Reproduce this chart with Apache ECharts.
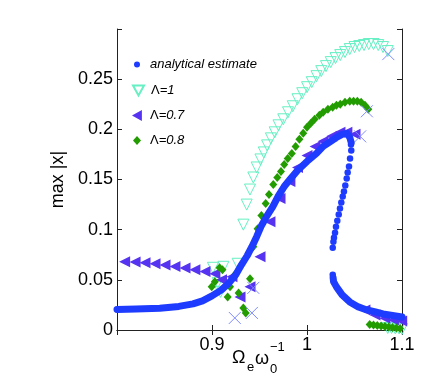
<!DOCTYPE html>
<html>
<head>
<meta charset="utf-8">
<script src="https://cdn.jsdelivr.net/npm/echarts@6/dist/echarts.min.js"></script>
<style>
  html, body { margin: 0; padding: 0; background: #fff; }
  #chart { width: 436px; height: 390px; }
</style>
</head>
<body>
<div id="chart"></div>
<script>
// analytical estimate: stable upper branch, unstable branch (sparse dots), stable lower branch
const analyticUpper = [
  [0.800, 0.0205], [0.820, 0.0210], [0.845, 0.0217], [0.865, 0.0235], [0.880, 0.0260],
  [0.890, 0.0290], [0.900, 0.0340], [0.910, 0.0400], [0.918, 0.0470], [0.925, 0.0550],
  [0.931, 0.0650], [0.937, 0.0740], [0.942, 0.0830], [0.947, 0.0930], [0.952, 0.1040],
  [0.958, 0.1140], [0.964, 0.1230], [0.970, 0.1340], [0.976, 0.1430], [0.982, 0.1500],
  [0.990, 0.1590], [1.000, 0.1680], [1.010, 0.1760], [1.017, 0.1830], [1.025, 0.1880],
  [1.031, 0.1920], [1.037, 0.1950], [1.042, 0.1960], [1.045, 0.1920], [1.0465, 0.1870]
];
const analyticUnstable = [
  [1.0463, 0.185], [1.0466, 0.179], [1.0453, 0.171], [1.0442, 0.163], [1.0428, 0.157],
  [1.0418, 0.151], [1.0403, 0.144], [1.0389, 0.138], [1.0376, 0.133], [1.0361, 0.127],
  [1.0347, 0.121], [1.0334, 0.115], [1.0319, 0.109], [1.0305, 0.103], [1.0295, 0.097],
  [1.0284, 0.092], [1.0278, 0.088], [1.0271, 0.082], [1.0271, 0.055]
];
const analyticLower = [
  [1.0275, 0.052], [1.028, 0.048], [1.031, 0.043], [1.037, 0.035], [1.045, 0.028],
  [1.054, 0.023], [1.063, 0.020], [1.072, 0.018], [1.080, 0.016], [1.090, 0.0145],
  [1.100, 0.013]
];

// Lambda = 1 (open down triangles)
const lambda1 = [
  [0.901, 0.062], [0.912, 0.063], [0.927, 0.066], [0.906, 0.047], [0.909, 0.038],
  [0.933, 0.105], [0.9365, 0.125], [0.940, 0.140], [0.9435, 0.152], [0.947, 0.162],
  [0.951, 0.170], [0.9545, 0.177], [0.958, 0.184], [0.962, 0.191], [0.966, 0.197],
  [0.970, 0.204], [0.975, 0.210], [0.980, 0.217], [0.985, 0.223], [0.990, 0.230],
  [0.995, 0.236], [1.000, 0.242], [1.005, 0.247], [1.010, 0.253], [1.015, 0.258],
  [1.020, 0.263], [1.025, 0.267], [1.030, 0.271], [1.035, 0.274], [1.040, 0.277],
  [1.045, 0.280], [1.050, 0.282], [1.055, 0.283], [1.060, 0.284], [1.065, 0.285],
  [1.070, 0.285], [1.075, 0.284], [1.080, 0.282], [1.085, 0.278],
  [1.085, 0.002], [1.089, 0.002], [1.093, 0.0015], [1.097, 0.0015], [1.100, 0.001]
];

// Lambda = 0.7 (left triangles)
const lambda07 = [
  [0.808, 0.068], [0.819, 0.0677], [0.8295, 0.067], [0.840, 0.066], [0.8505, 0.0647],
  [0.861, 0.0633], [0.8716, 0.0617], [0.882, 0.060], [0.8926, 0.0583], [0.903, 0.056],
  [0.910, 0.050], [0.921, 0.053], [0.9295, 0.033], [0.940, 0.043],
  [0.9505, 0.073], [0.961, 0.108], [0.9716, 0.131], [0.982, 0.148], [0.990, 0.162],
  [1.000, 0.174], [1.0085, 0.183], [1.017, 0.188], [1.026, 0.193], [1.0347, 0.197],
  [1.042, 0.197], [1.0505, 0.195],
  [1.061, 0.020], [1.0716, 0.015], [1.082, 0.0117], [1.091, 0.010], [1.0997, 0.009]
];

// Lambda = 0.8 (diamonds)
const lambda08 = [
  [0.8997, 0.043], [0.903, 0.048], [0.908, 0.062], [0.911, 0.060], [0.9165, 0.033],
  [0.919, 0.043], [0.924, 0.055], [0.928, 0.037], [0.933, 0.022], [0.9355, 0.017],
  [0.940, 0.051],
  [0.9435, 0.083], [0.948, 0.101], [0.952, 0.114], [0.9565, 0.126], [0.960, 0.135],
  [0.9645, 0.145], [0.9687, 0.152], [0.9726, 0.158], [0.976, 0.165], [0.9797, 0.171],
  [0.984, 0.176], [0.988, 0.183], [0.992, 0.190], [0.996, 0.196], [1.000, 0.202],
  [1.004, 0.206], [1.008, 0.210], [1.013, 0.214], [1.017, 0.217], [1.022, 0.220],
  [1.027, 0.222], [1.031, 0.224], [1.035, 0.225], [1.040, 0.227], [1.045, 0.228],
  [1.049, 0.228], [1.053, 0.228], [1.057, 0.227], [1.061, 0.224], [1.0645, 0.220],
  [1.066, 0.0055], [1.070, 0.005], [1.074, 0.0045], [1.078, 0.004], [1.082, 0.0035],
  [1.086, 0.003], [1.090, 0.0025], [1.094, 0.002], [1.098, 0.0015]
];

// jump points (crosses)
const jumpPoints = [
  [1.056, 0.193], [1.063, 0.218], [1.0856, 0.275],
  [0.924, 0.012], [0.942, 0.017], [0.9435, 0.042]
];

const xTickLabels = ['0.9', '1', '1.1'];
const yTickLabels = ['0', '0.05', '0.1', '0.15', '0.2', '0.25'];

const FONT = 'Liberation Sans';
const AXIS_COLOR = '#222';
const BLUE = '#1e3cff';
const CYAN = '#66f0c4';
const PURPLE = '#5533f0';
const GREEN = '#229c00';
const CROSS = '#7f8cff';

const chart = echarts.init(document.getElementById('chart'), null, { renderer: 'canvas' });

function xLabel(v) {
  const s = String(+v.toFixed(2));
  return xTickLabels.indexOf(s) >= 0 ? s : '';
}
function yLabel(v) {
  const s = String(+v.toFixed(2));
  return yTickLabels.indexOf(s) >= 0 ? s : '';
}
// upright Lambda, italic rest
function legendLabel(name) {
  if (name.charAt(0) === 'Λ') return '{u|Λ}{i|' + name.slice(1) + '}';
  return '{i|' + name + '}';
}

const tickStyle = { inside: true, length: 5, lineStyle: { color: AXIS_COLOR } };
const lineStyleAxis = { show: true, lineStyle: { color: AXIS_COLOR, width: 1 } };

function legendText(pad) {
  return {
    padding: [0, 0, 0, pad],
    rich: {
      i: { fontFamily: FONT, fontStyle: 'italic', fontSize: 13, color: '#000' },
      u: { fontFamily: FONT, fontSize: 13, color: '#000' }
    }
  };
}

const option = {
  animation: false,
  backgroundColor: '#fff',
  grid: { left: 117, right: 34, top: 29, bottom: 60 },
  xAxis: [
    {
      type: 'value', min: 0.8, max: 1.1, interval: 0.1,
      axisLine: lineStyleAxis, axisTick: tickStyle, splitLine: { show: false },
      axisLabel: { formatter: xLabel, fontFamily: FONT, fontSize: 18, color: '#000', margin: 6 }
    },
    {
      type: 'value', position: 'top', min: 0.8, max: 1.1, interval: 0.1,
      axisLine: lineStyleAxis, axisTick: tickStyle, splitLine: { show: false },
      axisLabel: { show: false }
    }
  ],
  yAxis: [
    {
      type: 'value', min: 0, max: 0.3, interval: 0.05,
      axisLine: lineStyleAxis, axisTick: tickStyle, splitLine: { show: false },
      axisLabel: { formatter: yLabel, fontFamily: FONT, fontSize: 18, color: '#000', margin: 4 },
      name: 'max |x|', nameLocation: 'middle', nameGap: 42, nameRotate: 90,
      nameTextStyle: { fontFamily: FONT, fontSize: 18, color: '#000' }
    },
    {
      type: 'value', position: 'right', min: 0, max: 0.3, interval: 0.05,
      axisLine: lineStyleAxis, axisTick: tickStyle, splitLine: { show: false },
      axisLabel: { show: false }
    }
  ],
  legend: [
    {
      data: [{ name: 'analytical estimate', icon: 'circle' }],
      left: 129, top: 53, itemWidth: 6, itemHeight: 6, selectedMode: false,
      formatter: legendLabel, textStyle: legendText(5)
    },
    {
      data: [{ name: 'Λ=1', icon: 'path://M0 0L10 0L5 9Z' }],
      left: 127, top: 79, itemWidth: 11, itemHeight: 10, selectedMode: false,
      formatter: legendLabel, textStyle: legendText(2)
    },
    {
      data: [{ name: 'Λ=0.7', icon: 'path://M9 0L9 10L0 5Z' }],
      left: 127, top: 104, itemWidth: 10, itemHeight: 11, selectedMode: false,
      formatter: legendLabel, textStyle: legendText(3)
    },
    {
      data: ['Λ=0.8'],
      left: 128, top: 129, itemWidth: 8, itemHeight: 9, selectedMode: false,
      formatter: legendLabel, textStyle: legendText(4)
    }
  ],
  graphic: [
    { type: 'text', left: 232, top: 349, style: { text: 'Ω', font: '18px "Liberation Sans"', fill: '#000' } },
    { type: 'text', left: 247, top: 361, style: { text: 'e', font: '13px "Liberation Sans"', fill: '#000' } },
    { type: 'text', left: 255, top: 350, style: { text: 'ω', font: '18px "Liberation Sans"', fill: '#000' } },
    { type: 'text', left: 270, top: 363, style: { text: '0', font: '13px "Liberation Sans"', fill: '#000' } },
    { type: 'text', left: 270, top: 341, style: { text: '−1', font: '13px "Liberation Sans"', fill: '#000' } }
  ],
  series: [
    {
      name: 'analytical estimate', type: 'line', data: analyticUpper,
      showSymbol: false, symbol: 'circle', symbolSize: 6, color: BLUE,
      lineStyle: { width: 7, color: BLUE, cap: 'round', join: 'round' }
    },
    {
      name: 'analytical estimate', type: 'line', data: analyticLower,
      showSymbol: false, symbol: 'circle', symbolSize: 6, color: BLUE,
      lineStyle: { width: 7, color: BLUE, cap: 'round', join: 'round' }
    },
    {
      name: 'analytical estimate', type: 'scatter', data: analyticUnstable,
      symbol: 'circle', symbolSize: 6.5, itemStyle: { color: BLUE, opacity: 1 }
    },
    {
      name: 'Λ=1', type: 'scatter', data: lambda1, clip: false,
      symbol: 'triangle', symbolRotate: 180, symbolSize: 11,
      itemStyle: { color: 'rgba(0,0,0,0)', borderColor: CYAN, borderWidth: 1, opacity: 1 }
    },
    {
      name: 'Λ=0.7', type: 'scatter', data: lambda07, clip: false,
      symbol: 'triangle', symbolRotate: 90, symbolSize: 11,
      itemStyle: { color: PURPLE, opacity: 1 }
    },
    {
      name: 'Λ=0.8', type: 'scatter', data: lambda08, clip: false,
      symbol: 'diamond', symbolSize: [8, 9],
      itemStyle: { color: GREEN, opacity: 1 }
    },
    {
      name: 'jumps', type: 'scatter', data: jumpPoints, clip: false,
      symbol: 'path://M0 0L10 10M10 0L0 10', symbolSize: 12,
      itemStyle: { color: 'rgba(0,0,0,0)', borderColor: CROSS, borderWidth: 1, opacity: 1 }
    }
  ]
};

chart.setOption(option);
</script>
</body>
</html>
